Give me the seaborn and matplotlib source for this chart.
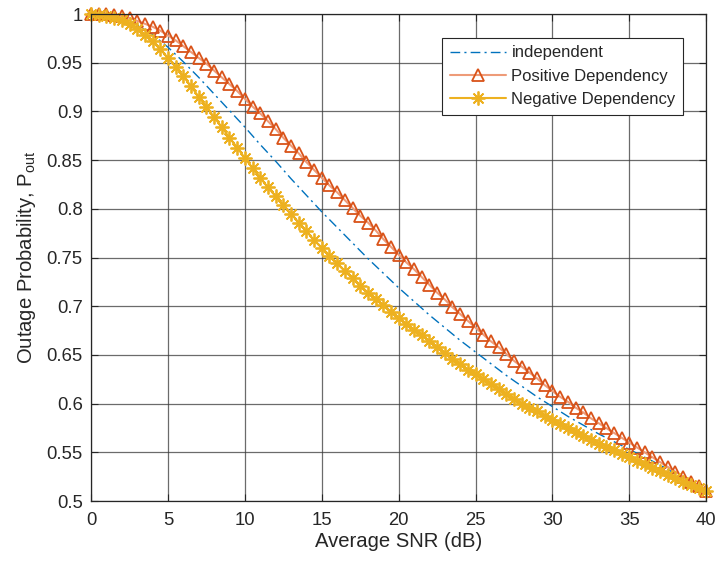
"""
Outage probability vs average SNR
- independent / positive / negative dependency
"""
import matplotlib
matplotlib.use("Agg")
import matplotlib.pyplot as plt
import numpy as np
import pandas as pd
import seaborn as sns
from matplotlib.ticker import FormatStrFormatter, MultipleLocator

# SNR grid (dB): markers every 0.5 dB
snr_half = [i * 0.5 for i in range(81)]
snr_int = list(range(41))

p_positive = [
    1.000, 1.000, 1.000, 0.999, 0.998, 0.996, 0.993, 0.990, 0.987, 0.983,
    0.978, 0.973, 0.967, 0.961, 0.955, 0.949, 0.942, 0.935, 0.928, 0.921,
    0.913, 0.905, 0.898, 0.890, 0.882, 0.873, 0.865, 0.857, 0.848, 0.840,
    0.832, 0.824, 0.817, 0.809, 0.801, 0.793, 0.786, 0.778, 0.769, 0.761,
    0.753, 0.745, 0.738, 0.730, 0.722, 0.714, 0.707, 0.699, 0.692, 0.685,
    0.678, 0.671, 0.664, 0.658, 0.651, 0.644, 0.638, 0.632, 0.626, 0.619,
    0.613, 0.607, 0.602, 0.596, 0.591, 0.585, 0.580, 0.575, 0.570, 0.565,
    0.560, 0.555, 0.550, 0.545, 0.540, 0.535, 0.530, 0.525, 0.520, 0.515,
    0.510,
]

p_negative = [
    1.000, 0.999, 0.998, 0.996, 0.994, 0.990, 0.985, 0.979, 0.972, 0.964,
    0.955, 0.946, 0.936, 0.926, 0.915, 0.905, 0.894, 0.884, 0.873, 0.863,
    0.852, 0.842, 0.832, 0.822, 0.813, 0.804, 0.795, 0.786, 0.777, 0.768,
    0.760, 0.752, 0.744, 0.736, 0.729, 0.721, 0.714, 0.707, 0.701, 0.694,
    0.688, 0.682, 0.676, 0.670, 0.664, 0.658, 0.652, 0.646, 0.641, 0.635,
    0.630, 0.625, 0.620, 0.615, 0.610, 0.605, 0.600, 0.596, 0.592, 0.587,
    0.583, 0.579, 0.575, 0.571, 0.567, 0.563, 0.559, 0.556, 0.552, 0.548,
    0.545, 0.541, 0.538, 0.534, 0.531, 0.527, 0.524, 0.520, 0.517, 0.513,
    0.510,
]

p_independent = [
    1.000, 0.999, 0.996, 0.989, 0.979, 0.966, 0.951, 0.935, 0.918, 0.901,
    0.884, 0.866, 0.849, 0.831, 0.814, 0.797, 0.781, 0.765, 0.749, 0.734,
    0.719, 0.705, 0.691, 0.678, 0.665, 0.653, 0.641, 0.629, 0.618, 0.607,
    0.597, 0.587, 0.578, 0.569, 0.561, 0.553, 0.545, 0.537, 0.528, 0.520,
    0.512,
]

C_BLUE = "#0072BD"
C_RED = "#D95319"
C_RED_LINE = "#EE9B78"
C_YELLOW = "#EDB120"

sns.set_style("ticks")
plt.rcParams["font.family"] = ["Liberation Sans", "DejaVu Sans"]
plt.rcParams["mathtext.fontset"] = "custom"
plt.rcParams["mathtext.rm"] = "Liberation Sans"
plt.rcParams["mathtext.it"] = "Liberation Sans:italic"

df_ind = pd.DataFrame({"snr": snr_int, "p": p_independent})
df_pos = pd.DataFrame({"snr": snr_half, "p": p_positive})
df_neg = pd.DataFrame({"snr": snr_half, "p": p_negative})

fig = plt.figure(figsize=(7.17, 5.63), dpi=100)
ax = fig.add_axes([0.127, 0.110, 0.858, 0.865])

sns.lineplot(data=df_ind, x="snr", y="p", ax=ax, color=C_BLUE, lw=1.0,
             linestyle=(0, (7, 3, 1.5, 3)), label="independent")
sns.lineplot(data=df_pos, x="snr", y="p", ax=ax, color=C_RED_LINE, lw=1.5,
             marker="^", markersize=9, markerfacecolor="none",
             markeredgecolor=C_RED, markeredgewidth=1.3, clip_on=False,
             label="Positive Dependency")
sns.lineplot(data=df_neg, x="snr", y="p", ax=ax, color=C_YELLOW, lw=1.5,
             marker=(8, 2, 0), markersize=10, markeredgecolor=C_YELLOW,
             markeredgewidth=1.3, clip_on=False,
             label="Negative Dependency")

ax.set_xlim(0, 40)
ax.set_ylim(0.5, 1.0)
ax.xaxis.set_major_locator(MultipleLocator(5))
ax.yaxis.set_major_locator(MultipleLocator(0.05))
ax.yaxis.set_major_formatter(FormatStrFormatter("%g"))
ax.grid(True, color="#3a3a3a", lw=0.9, alpha=0.75)
ax.set_axisbelow(True)

for side in ["top", "right", "bottom", "left"]:
    ax.spines[side].set_visible(True)
    ax.spines[side].set_color("#262626")
    ax.spines[side].set_linewidth(0.9)

ax.tick_params(direction="in", length=5, width=0.8, labelsize=13.3,
               colors="#262626", top=True, right=True)
ax.tick_params(axis="x", pad=8)
ax.tick_params(axis="y", pad=6)

ax.set_xlabel("Average SNR (dB)", fontsize=14.6, color="#262626", labelpad=2)
ax.set_ylabel(r"Outage Probability, P$_{\mathrm{out}}$", fontsize=14.6,
              color="#262626", labelpad=6)

leg = ax.legend(loc="upper right", bbox_to_anchor=(0.976, 0.968), fontsize=12,
                frameon=True, fancybox=False, edgecolor="#262626",
                framealpha=1, handlelength=3.4, borderpad=0.45,
                labelspacing=0.5, handletextpad=0.3)
leg.get_frame().set_linewidth(0.8)

fig.savefig("out.png", dpi=100)
